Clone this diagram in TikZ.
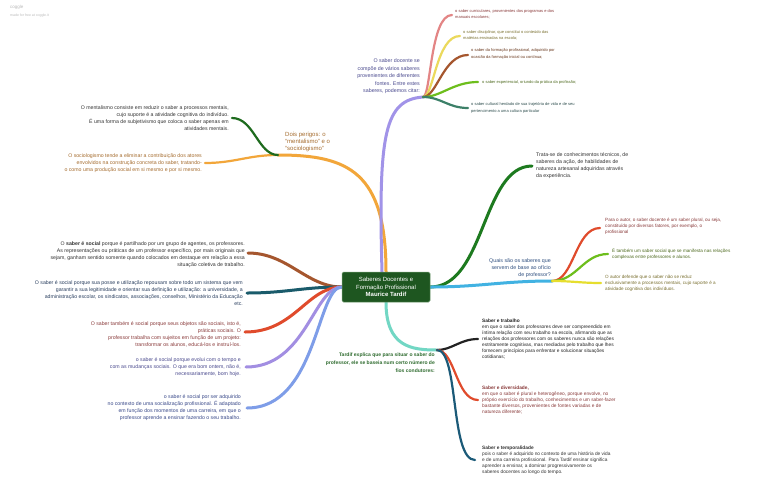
\documentclass[tikz,border=0pt]{standalone}
\usepackage{fontspec}
\setmainfont{Liberation Sans}
\usetikzlibrary{positioning, backgrounds}
\definecolor{cogCtr}{HTML}{1E5620}
\definecolor{cogCtrLine}{HTML}{6E9A6E}
\definecolor{cogOrange}{HTML}{F2A63A}
\definecolor{cogDeepGreen}{HTML}{1E6B1E}
\definecolor{cogPurple}{HTML}{A193E8}
\definecolor{cogPink}{HTML}{E38585}
\definecolor{cogYellow}{HTML}{EBD95C}
\definecolor{cogBrown}{HTML}{A5562E}
\definecolor{cogGreen}{HTML}{6DBE1C}
\definecolor{cogTeal}{HTML}{3C8068}
\definecolor{cogForest}{HTML}{1D7A1F}
\definecolor{cogSky}{HTML}{41B2E2}
\definecolor{cogRed}{HTML}{E04B2C}
\definecolor{cogLemon}{HTML}{E6DE2E}
\definecolor{cogTurq}{HTML}{72D7C4}
\definecolor{cogBlack}{HTML}{222222}
\definecolor{cogNavy}{HTML}{1B5A78}
\definecolor{cogPetrol}{HTML}{1A5B6B}
\definecolor{cogLilac}{HTML}{A28EE2}
\definecolor{cogBlue}{HTML}{7E9DE8}
\definecolor{cogInk}{HTML}{333333}
\definecolor{cogRust}{HTML}{A56C2E}
\definecolor{cogViolet}{HTML}{4A4A8E}
\definecolor{cogMaroon}{HTML}{8A3B3B}
\definecolor{cogOlive}{HTML}{7A7030}
\definecolor{cogMoss}{HTML}{4F6B20}
\definecolor{cogUmber}{HTML}{6B3A1F}
\definecolor{cogSlate}{HTML}{2F4F4F}
\definecolor{cogDenim}{HTML}{2F4F7F}
\definecolor{cogGrass}{HTML}{2E6B2E}
\definecolor{cogSteel}{HTML}{2A3F5F}
\definecolor{cogIndigo}{HTML}{3A4A8A}
\definecolor{cogFaint}{HTML}{BBBBBB}

\begin{document}
\begin{tikzpicture}[x=1pt, y=-1pt,
        ctrbox/.style={fill=cogCtr, draw=cogCtrLine, line width=0.5pt, rounded corners=1.5pt, text=white, align=center, minimum width=88pt, minimum height=30pt, inner sep=2pt, font=\fontsize{6}{7.5}\selectfont},
        branch/.style={line width=3pt, line cap=round},
        twig/.style={line width=2.2pt, line cap=round},
        txtR/.style={anchor=east, align=right, inner sep=1pt, font=\fontsize{5.2}{7}\selectfont},
        txtL/.style={anchor=west, align=left, inner sep=1pt, font=\fontsize{5.2}{7}\selectfont},
        tiny/.style={font=\fontsize{4}{6.3}\selectfont},
        small/.style={font=\fontsize{4.6}{6}\selectfont},
        dense/.style={font=\fontsize{4.8}{6}\selectfont}]
  \useasboundingbox (0,0) rectangle (768,496);

  % header
  \node[anchor=west, inner sep=0pt, text=cogFaint, font=\fontsize{4.5}{5}\selectfont] (brand) at (10,7) {coggle};
  \node[anchor=west, inner sep=0pt, text=cogFaint, font=\fontsize{3.5}{4}\selectfont] (made) at (10,15.5) {made for free at coggle.it};

  \node[ctrbox] (ctr) at (386,287) {Saberes Docentes e\\Formação Profissional\\\textbf{Maurice Tardif}};

  % junctions and branch ends
  \coordinate (jDois) at (278,155);
  \coordinate (eMent) at (232,118);
  \coordinate (eSocio) at (205,163);
  \coordinate (jDoc) at (423,97);
  \coordinate (eCur) at (452,15);
  \coordinate (eDis) at (460,36);
  \coordinate (eFor) at (468,55);
  \coordinate (eExp) at (478,82);
  \coordinate (eCul) at (468,108);
  \coordinate (eTec) at (532,166);
  \coordinate (jQua) at (552,281);
  \coordinate (ePlu) at (600,228);
  \coordinate (eRel) at (608,254);
  \coordinate (eRed) at (601,283);
  \coordinate (jFio) at (437,350);
  \coordinate (eTra) at (478,339);
  \coordinate (eDiv) at (478,400);
  \coordinate (eTem) at (475,460);
  \coordinate (lPar) at (248,253);
  \coordinate (lPos) at (247,293);
  \coordinate (lObj) at (245,332);
  \coordinate (lEvo) at (246,367);
  \coordinate (lAdq) at (247,408);

  \begin{scope}[on background layer]
    \fill[white] (0,0) rectangle (768,496);
    % top
    \draw[branch, cogOrange] (ctr.north) .. controls +(0,-100) and +(70,0) .. (jDois);
    \draw[twig, cogOrange] (jDois) .. controls +(-30,0) and +(30,0) .. (eSocio);
    \draw[twig, cogDeepGreen] (jDois) .. controls +(-20,0) and +(22,0) .. (eMent);
    \draw[branch, cogPurple] ([xshift=-4pt]ctr.north) .. controls +(-4,-140) and +(-38,3) .. (jDoc);
    \draw[twig, cogPink] (jDoc) .. controls +(8,0) and +(-22,0) .. (eCur);
    \draw[twig, cogYellow] (jDoc) .. controls +(11,0) and +(-24,0) .. (eDis);
    \draw[twig, cogBrown] (jDoc) .. controls +(14,0) and +(-25,0) .. (eFor);
    \draw[twig, cogGreen] (jDoc) .. controls +(18,0) and +(-25,0) .. (eExp);
    \draw[twig, cogTeal] (jDoc) .. controls +(18,0) and +(-20,0) .. (eCul);
    % right
    \draw[branch, cogForest] (ctr.east) .. controls +(55,0) and +(-50,0) .. (eTec);
    \draw[branch, cogSky] (ctr.east) .. controls +(50,0) and +(-50,0) .. (jQua);
    \draw[twig, cogRed] (jQua) .. controls +(22,0) and +(-25,0) .. (ePlu);
    \draw[twig, cogGreen] (jQua) .. controls +(25,0) and +(-25,0) .. (eRel);
    \draw[twig, cogLemon] (jQua) .. controls +(20,0) and +(-20,0) .. (eRed);
    % bottom
    \draw[branch, cogTurq] (ctr.south) .. controls +(0,45) and +(-25,0) .. (jFio);
    \draw[twig, cogBlack] (jFio) .. controls +(15,0) and +(-18,0) .. (eTra);
    \draw[twig, cogRed] (jFio) .. controls +(18,0) and +(-22,0) .. (eDiv);
    \draw[twig, cogNavy] (jFio) .. controls +(22,0) and +(-25,0) .. (eTem);
    % left
    \draw[branch, cogBrown] (ctr.west) .. controls +(-35,0) and +(40,0) .. (lPar);
    \draw[branch, cogPetrol] (ctr.west) .. controls +(-40,0) and +(40,0) .. (lPos);
    \draw[branch, cogRed] (ctr.west) .. controls +(-35,0) and +(50,0) .. (lObj);
    \draw[branch, cogLilac] (ctr.west) .. controls +(-28,0) and +(60,0) .. (lEvo);
    \draw[branch, cogBlue] (ctr.west) .. controls +(-25,0) and +(70,0) .. (lAdq);
  \end{scope}

  % top texts
  \node[anchor=south west, align=left, inner sep=1pt, text=cogRust, font=\fontsize{6}{7}\selectfont] (tDois) at ([xshift=6pt, yshift=2pt]jDois) {Dois perigos: o\\``mentalismo'' e o\\``sociologismo''};
  \node[txtR, text=cogInk] (tMent) at ([xshift=-2pt]eMent) {O mentalismo consiste em reduzir o saber a processos mentais,\\cujo suporte é a atividade cognitiva do indivíduo.\\É uma forma de subjetivismo que coloca o saber apenas em\\atividades mentais.};
  \node[txtR, text=cogRust] (tSocio) at ([xshift=-2pt]eSocio) {O sociologismo tende a eliminar a contribuição dos atores\\envolvidos na construção concreta do saber, tratando-\\o como uma produção social em si mesmo e por si mesmo.};
  \node[txtR, anchor=south east, text=cogViolet, font=\fontsize{5.3}{7.5}\selectfont] (tDoc) at ([xshift=-2pt, yshift=2pt]jDoc) {O saber docente se\\compõe de vários saberes\\provenientes de diferentes\\fontes. Entre estes\\saberes, podemos citar:};
  \node[txtL, tiny, text=cogMaroon] (tCur) at ([xshift=2pt, yshift=1pt]eCur) {o saber curriculares, provenientes dos programas e dos\\manuais escolares;};
  \node[txtL, tiny, text=cogOlive] (tDis) at ([xshift=2pt, yshift=1pt]eDis) {o saber disciplinar, que constitui o conteúdo das\\matérias ensinadas na escola;};
  \node[txtL, tiny, text=cogUmber] (tFor) at ([xshift=2pt, yshift=1pt]eFor) {o saber da formação profissional, adquirido por\\ocasião da formação inicial ou contínua;};
  \node[txtL, tiny, text=cogMoss] (tExp) at ([xshift=3pt]eExp) {o saber experiencial, oriundo da prática da profissão;};
  \node[txtL, tiny, text=cogSlate] (tCul) at ([xshift=2pt]eCul) {o saber cultural herdado de sua trajetória de vida e de seu\\pertencimento a uma cultura particular};

  % right texts
  \node[txtL, text=cogInk] (tTec) at ([xshift=3pt]eTec) {Trata-se de conhecimentos técnicos, de\\saberes da ação, de habilidades de\\natureza artesanal adquiridas através\\da experiência.};
  \node[txtR, anchor=south east, text=cogDenim, font=\fontsize{5.3}{7}\selectfont] (tQua) at ([yshift=2pt]jQua) {Quais são os saberes que\\servem de base ao ofício\\de professor?};
  \node[txtL, small, text=cogMaroon] (tPlu) at ([xshift=4pt, yshift=2pt]ePlu) {Para o autor, o saber docente é um saber plural, ou seja,\\constituído por diversos fatores, por exemplo, o\\profissional};
  \node[txtL, small, text=cogMoss] (tRel) at ([xshift=3pt]eRel) {É também um saber social que se manifesta nas relações\\complexas entre professores e alunos.};
  \node[txtL, small, text=cogOlive] (tRed) at ([xshift=3pt]eRed) {O autor defende que o saber não se reduz\\exclusivamente a processos mentais, cujo suporte é a\\atividade cognitiva dos indivíduos.};

  % bottom texts
  \node[txtR, anchor=north east, text=cogGrass, font=\bfseries\fontsize{5}{7.8}\selectfont] (tFio) at ([xshift=-1pt, yshift=-2pt]jFio) {Tardif explica que para situar o saber do\\professor, ele se baseia num certo número de\\fios condutores:};
  \node[txtL, dense, text=cogBlack] (tTra) at ([xshift=3pt]eTra) {\textbf{Saber e trabalho}\\em que o saber dos professores deve ser compreendido em\\íntima relação com seu trabalho na escola, afirmando que as\\relações dos professores com os saberes nunca são relações\\estritamente cognitivas, mas mediadas pelo trabalho que lhes\\fornecem princípios para enfrentar e solucionar situações\\cotidianas;};
  \node[txtL, dense, text=cogMaroon] (tDiv) at ([xshift=3pt]eDiv) {\textbf{Saber e diversidade,}\\em que o saber é plural e heterogêneo, porque envolve, no\\próprio exercício do trabalho, conhecimentos e um saber-fazer\\bastante diversos, provenientes de fontes variadas e de\\natureza diferente;};
  \node[txtL, dense, text=cogInk] (tTem) at ([xshift=6pt]eTem) {\textbf{Saber e temporalidade}\\pois o saber é adquirido no contexto de uma história de vida\\e de uma carreira profissional. Para Tardif ensinar significa\\aprender a ensinar, a dominar progressivamente os\\saberes docentes ao longo do tempo.};

  % left texts
  \node[txtR, text=cogInk] (tPar) at ([xshift=-2pt, yshift=-2pt]lPar) {O \textbf{saber é social} porque é partilhado por um grupo de agentes, os professores.\\As representações ou práticas de um professor específico, por mais originais que\\sejam, ganham sentido somente quando colocados em destaque em relação a essa\\situação coletiva de trabalho.};
  \node[txtR, text=cogSteel] (tPos) at ([xshift=-3pt]lPos) {O saber é social porque sua posse e utilização repousam sobre todo um sistema que vem\\garantir a sua legitimidade e orientar sua definição e utilização: a universidade, a\\administração escolar, os sindicatos, associações, conselhos, Ministério da Educação\\etc.};
  \node[txtR, text=cogMaroon] (tObj) at ([xshift=-3pt, yshift=-2pt]lObj) {O saber também é social porque seus objetos são sociais, isto é,\\práticas sociais. O\\professor trabalha com sujeitos em função de um projeto:\\transformar os alunos, educá-los e instruí-los.};
  \node[txtR, text=cogViolet] (tEvo) at ([xshift=-4pt]lEvo) {o saber é social porque evolui com o tempo e\\com as mudanças sociais. O que era bom ontem, não é,\\necessariamente, bom hoje.};
  \node[txtR, text=cogIndigo] (tAdq) at ([xshift=-5pt]lAdq) {o saber é social por ser adquirido\\no contexto de uma socialização profissional. É adaptado\\em função dos momentos de uma carreira, em que o\\professor aprende a ensinar fazendo o seu trabalho.};
\end{tikzpicture}
\end{document}
